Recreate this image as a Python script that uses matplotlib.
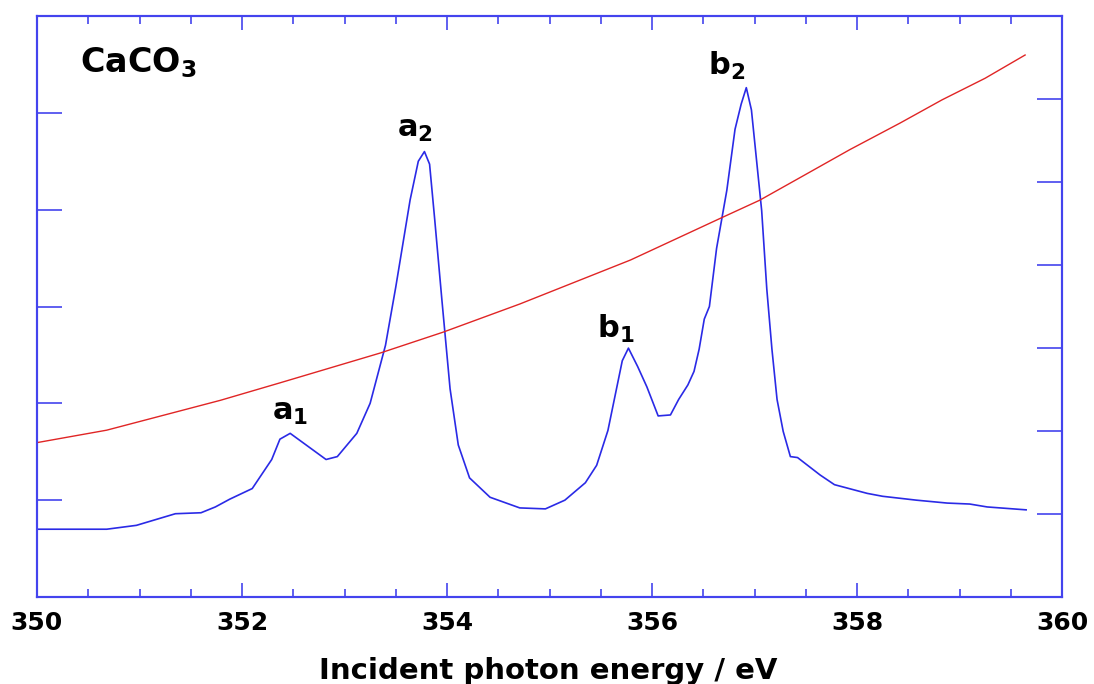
'''
CaCO3 absorption spectrum with reference curve
'''

# Imports
import numpy as np
import matplotlib
matplotlib.use('Agg')
import matplotlib.pyplot as plt
from matplotlib.ticker import MultipleLocator

# Data
# spectrum (left axis, arb. units)
SPEC_E = [350.00, 350.68, 350.97, 351.35, 351.60, 351.74, 351.88, 352.10, 352.29,
          352.37, 352.47, 352.82, 352.93, 353.12, 353.25, 353.40, 353.50, 353.64,
          353.72, 353.78, 353.83, 353.88, 353.95, 354.03, 354.11, 354.22, 354.42,
          354.71, 354.96, 355.15, 355.35, 355.46, 355.57, 355.64, 355.71, 355.77,
          355.86, 355.95, 356.06, 356.18, 356.26, 356.35, 356.41, 356.46, 356.51,
          356.56, 356.63, 356.73, 356.81, 356.87, 356.92, 356.97, 357.02, 357.07,
          357.12, 357.17, 357.22, 357.28, 357.35, 357.42, 357.64, 357.78, 358.10,
          358.25, 358.58, 358.88, 359.10, 359.27, 359.65]
SPEC_I = [0.70, 0.70, 0.74, 0.86, 0.87, 0.93, 1.01, 1.12, 1.42,
          1.63, 1.69, 1.42, 1.45, 1.69, 2.00, 2.60, 3.20, 4.10,
          4.50, 4.60, 4.47, 3.90, 3.07, 2.15, 1.57, 1.23, 1.03,
          0.92, 0.91, 1.00, 1.18, 1.36, 1.72, 2.08, 2.44, 2.57,
          2.38, 2.17, 1.87, 1.88, 2.04, 2.19, 2.33, 2.56, 2.87,
          3.00, 3.60, 4.20, 4.83, 5.09, 5.26, 5.03, 4.51, 3.99,
          3.18, 2.56, 2.04, 1.71, 1.45, 1.44, 1.26, 1.16, 1.07,
          1.04, 1.00, 0.97, 0.96, 0.93, 0.90]

# reference curve (right axis)
REF_E = [350.00, 350.68, 351.79, 352.37, 353.35, 353.96, 354.71, 355.79, 356.68,
         357.05, 357.44, 357.93, 358.42, 358.83, 359.25, 359.64]
REF_V = [1.86, 2.01, 2.37, 2.58, 2.94, 3.19, 3.53, 4.06, 4.57,
         4.78, 5.05, 5.39, 5.71, 5.99, 6.25, 6.53]

PEAK_LABELS = ['a_1', 'a_2', 'b_1', 'b_2']
PEAK_POS = [(352.47, 1.83), (353.69, 4.75), (355.65, 2.68), (356.73, 5.39)]

BLUE = '#2a2ae6'
AXIS_BLUE = '#4444ee'

plt.rcParams['mathtext.fontset'] = 'dejavusans'
plt.rcParams['font.family'] = 'DejaVu Sans'

fig = plt.figure(figsize=(10.94, 6.84), dpi=100)
ax = fig.add_axes([37/1094, 87/684, 1025/1094, 581/684])
ax2 = ax.twinx()

ax.plot(SPEC_E, SPEC_I, color=BLUE, lw=1.2)
ax2.plot(REF_E, REF_V, color='#e02525', lw=1.0)

ax.set_xlim(350, 360)
ax.set_ylim(0, 6)
ax2.set_ylim(0, 7)

ax.xaxis.set_major_locator(MultipleLocator(2))
ax.xaxis.set_minor_locator(MultipleLocator(0.5))
ax.set_yticks([1, 2, 3, 4, 5])
ax2.set_yticks([1, 2, 3, 4, 5, 6])
ax.set_yticklabels([])
ax2.set_yticklabels([])

ax.tick_params(axis='x', which='major', direction='in', length=10, width=1.2,
               color=AXIS_BLUE, top=True, labelsize=18, pad=10)
ax.tick_params(axis='x', which='minor', direction='in', length=6, width=1.2,
               color=AXIS_BLUE, top=True)
ax.tick_params(axis='y', direction='in', length=18, width=1.2, color=AXIS_BLUE)
ax2.tick_params(axis='y', direction='in', length=18, width=1.2, color=AXIS_BLUE)
for lab in ax.get_xticklabels():
    lab.set_fontweight('bold')

for a in (ax, ax2):
    for s in a.spines.values():
        s.set_color(AXIS_BLUE)
        s.set_linewidth(1.5)

ax.set_xlabel('Incident photon energy / eV', fontsize=21, fontweight='bold')
ax.xaxis.label.set_va('baseline')
ax.xaxis.set_label_coords(0.499, -0.141)

ax.text(0.042, 0.9036, r'$\mathbf{CaCO_3}$', transform=ax.transAxes,
        fontsize=24, ha='left', va='baseline')

for lbl, (xe, yv) in zip(PEAK_LABELS, PEAK_POS):
    ax.text(xe, yv, r'$\mathbf{%s}$' % lbl, fontsize=22, ha='center', va='baseline')

fig.savefig('out.png', dpi=100)
